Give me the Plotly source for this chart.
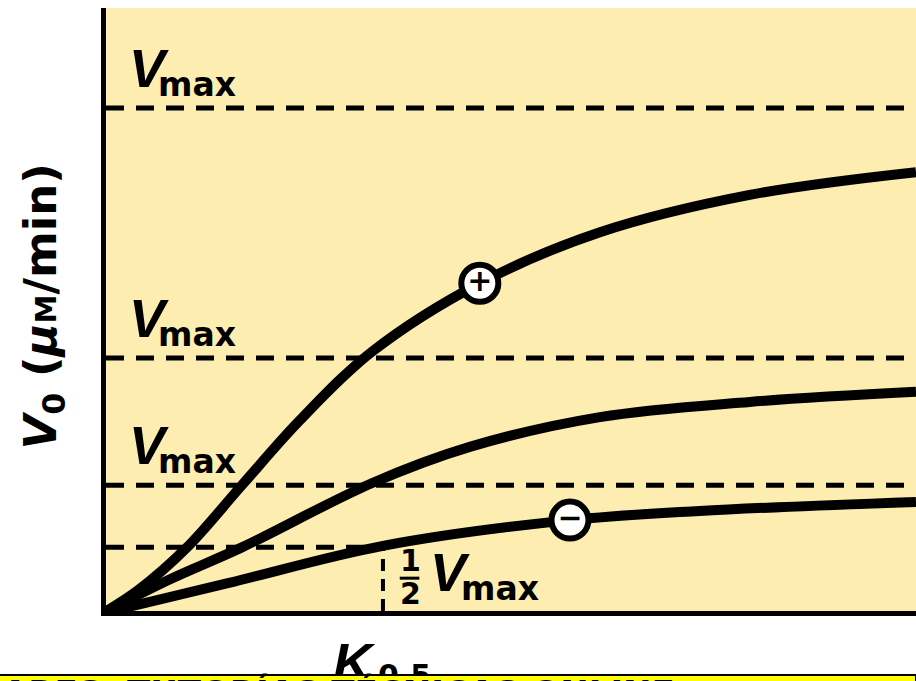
# Curvas de velocidad: efecto de moduladores sobre V0 frente a [S]
import plotly.graph_objects as go

x_sup = [0, 0.125, 0.30, 0.496, 0.704, 0.96, 1.346, 1.775, 2.31, 2.904]
y_sup = [0, 4.5, 13, 25.3, 38.2, 51.7, 65.3, 75.4, 82.8, 87.3]
x_med = [0, 0.232, 0.496, 0.96, 1.31, 1.775, 2.31, 2.904]
y_med = [0, 6.5, 13, 25.7, 32.9, 38.8, 41.8, 43.8]
x_inf = [0, 0.446, 1.0, 1.668, 2.13, 2.904]
y_inf = [0, 5.9, 13.3, 18.4, 20.2, 22]

vmax_niveles = [100, 50.5, 25.3]
medio_vmax = 13
k05 = 1
x_inicio = 0.0107
x_fin = 2.904
y_inicio = 0.4
y_fin = 119.8

mod_x = [1.346, 1.668]
mod_y = [65.3, 18.4]
mod_signos = ["+", "−"]

fig = go.Figure()

# lineas punteadas
for nivel in vmax_niveles:
    fig.add_trace(go.Scatter(x=[x_inicio, x_fin], y=[nivel, nivel], mode="lines",
                             line=dict(color="black", width=5, dash="18px,12px")))
fig.add_trace(go.Scatter(x=[x_inicio, k05], y=[medio_vmax, medio_vmax], mode="lines",
                         line=dict(color="black", width=5, dash="18px,12px")))
fig.add_trace(go.Scatter(x=[k05, k05], y=[y_inicio, medio_vmax], mode="lines",
                         line=dict(color="black", width=4, dash="12px,8px")))

# curvas
for xs, ys in [(x_sup, y_sup), (x_med, y_med), (x_inf, y_inf)]:
    fig.add_trace(go.Scatter(x=xs, y=ys, mode="lines", cliponaxis=False,
                             line=dict(color="black", width=10, shape="spline", smoothing=1)))

# circulos + y -
fig.add_trace(go.Scatter(x=mod_x, y=mod_y, mode="markers+text", text=mod_signos,
                         textposition="middle center",
                         textfont=dict(family="DejaVu Sans", size=30, color="black", weight="bold"),
                         marker=dict(size=37, color="white", line=dict(color="black", width=6))))

fig.update_layout(
    width=916, height=681,
    margin=dict(l=106, r=0, t=8, b=70),
    paper_bgcolor="white",
    plot_bgcolor="#FDEDB0",
    showlegend=False,
    font=dict(family="DejaVu Sans", color="black"),
    xaxis=dict(range=[x_inicio, x_fin], showgrid=False, zeroline=False, showticklabels=False,
               ticks="", showline=True, linecolor="black", linewidth=5),
    yaxis=dict(range=[y_inicio, y_fin], showgrid=False, zeroline=False, showticklabels=False,
               ticks="", showline=True, linecolor="black", linewidth=5),
)

letra = dict(family="Liberation Sans", size=54)

# etiquetas Vmax
for nivel in vmax_niveles:
    fig.add_annotation(x=0.085, y=nivel, yshift=8, text="<b><i>V</i></b>", showarrow=False,
                       xanchor="left", yanchor="bottom", font=letra)
    fig.add_annotation(x=0.19, y=nivel, yshift=2, text="<b>max</b>", showarrow=False,
                       xanchor="left", yanchor="bottom", font=dict(size=33))

# 1/2 Vmax
fig.add_annotation(x=1.055, y=y_inicio, yshift=31, text="<b>1</b>", showarrow=False,
                   xanchor="left", yanchor="bottom", font=dict(size=30))
fig.add_annotation(x=1.055, y=y_inicio, yshift=-2, text="<b>2</b>", showarrow=False,
                   xanchor="left", yanchor="bottom", font=dict(size=30))
fig.add_shape(type="line", x0=1.06, x1=1.13, y0=6.9, y1=6.9, line=dict(color="black", width=3))
fig.add_annotation(x=1.16, y=y_inicio, yshift=7, text="<b><i>V</i></b>", showarrow=False,
                   xanchor="left", yanchor="bottom", font=letra)
fig.add_annotation(x=1.27, y=y_inicio, yshift=1, text="<b>max</b>", showarrow=False,
                   xanchor="left", yanchor="bottom", font=dict(size=33))

# titulos de ejes
fig.add_annotation(xref="paper", yref="paper", x=-0.116, y=0.505, textangle=-90, showarrow=False,
                   text="<b><i>V</i><sub>0</sub> (<i>μ</i><span style='font-size:29px'>M</span>/min)</b>",
                   font=dict(size=45))
fig.add_annotation(x=k05, y=y_inicio, yshift=-19, xshift=-5, showarrow=False, xanchor="right", yanchor="top",
                   text="<b><i>K</i></b>", font=letra)
fig.add_annotation(x=k05, y=y_inicio, yshift=-45, xshift=-7, showarrow=False, xanchor="left", yanchor="top",
                   text="<b>0.5</b>", font=dict(size=30))

# banda inferior (va encima del K0.5)
fig.add_annotation(xref="paper", yref="paper", x=0, xanchor="left", xshift=-108,
                   y=0, yanchor="top", yshift=-63,
                   width=915, height=8, bgcolor="#FFFF00", showarrow=False,
                   bordercolor="black", borderwidth=2, borderpad=0,
                   text=" ", font=dict(size=4))
fig.add_annotation(xref="paper", yref="paper", x=0, xanchor="left", xshift=-106,
                   y=0, yanchor="top", yshift=-60, showarrow=False,
                   text="<b>ARES, TUTORÍAS TÉCNICAS ONLINE</b>", font=dict(size=34))

fig.write_html("out.html", config=dict(displayModeBar=False),
               post_script="document.body.style.margin='0';document.body.style.overflow='hidden';")
